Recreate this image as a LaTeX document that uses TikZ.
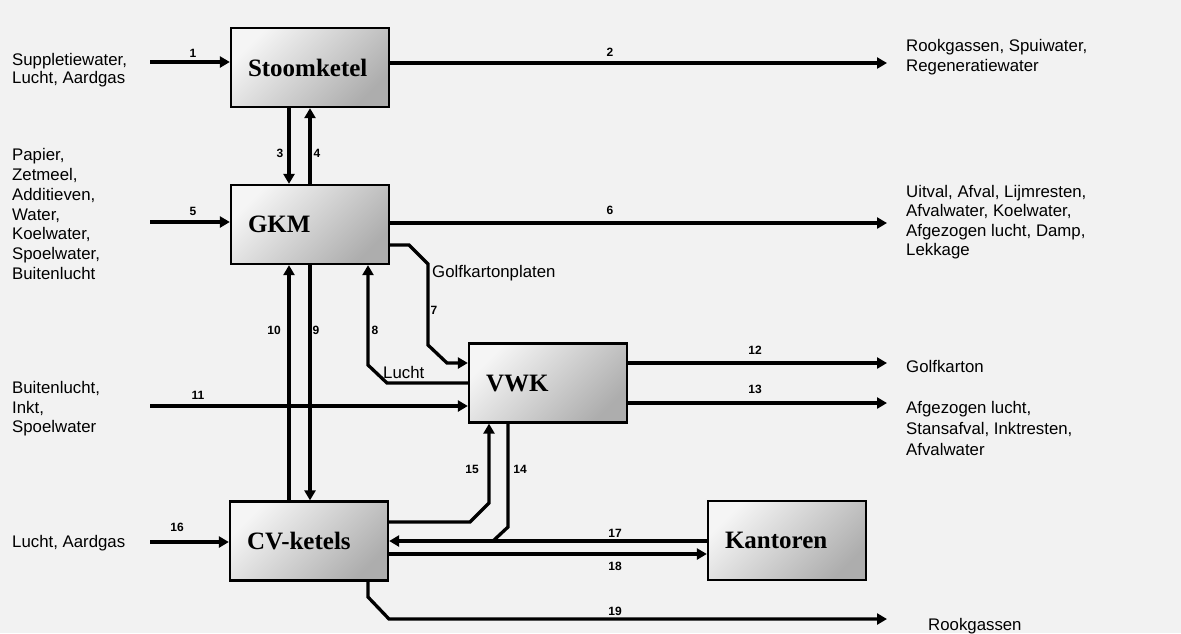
\documentclass[tikz,border=0pt]{standalone}
\usepackage{fontspec}
\setmainfont{Liberation Sans}
\newfontfamily\boxserif{Liberation Serif}
\usetikzlibrary{arrows.meta}
\begin{document}
\begin{tikzpicture}[x=1pt,y=-1pt,
  proc/.style={draw=black, line width=2.3pt, minimum height=79pt, text width=124pt,
    inner xsep=17pt, inner ysep=0pt, align=left,
    font={\boxserif\bfseries\fontsize{25}{28}\selectfont},
    top color=black!4, middle color=black!9, bottom color=black!32, shading angle=45},
  flow/.style={line width=3.3pt, -{Triangle[length=10pt,width=11pt]}},
  plain/.style={line width=3.3pt},
  num/.style={font={\fontsize{12}{13}\selectfont\bfseries}, inner sep=0pt},
  txt/.style={font={\fontsize{16.8}{19.5}\selectfont}, align=left, anchor=west, inner sep=0pt}]
\fill[black!5] (0,0) rectangle (1181,633);
\useasboundingbox (0,0) rectangle (1181,633);

% process boxes
\node[proc] (stoom) at (310,67.5) {Stoomketel};
\node[proc] (gkm) at (310,224.5) {GKM};
\node[proc] (vwk) at (548,383) {VWK};
\node[proc] (cv) at (309,541) {CV-ketels};
\node[proc] (kant) at (787,540.5) {Kantoren};

% input / output texts
\node[txt, font={\fontsize{16.8}{18.5}\selectfont}] (t1) at (12,70) {Suppletiewater,\\Lucht, Aardgas};
\node[txt, font={\fontsize{16.8}{19.7}\selectfont}] (t5) at (12,214) {Papier,\\Zetmeel,\\Additieven,\\Water,\\Koelwater,\\Spoelwater,\\Buitenlucht};
\node[txt] (t11) at (12,409) {Buitenlucht,\\Inkt,\\Spoelwater};
\node[txt] (t16) at (12,543) {Lucht, Aardgas};
\node[txt, font={\fontsize{16.8}{20}\selectfont}] (t2) at (906,57) {Rookgassen, Spuiwater,\\Regeneratiewater};
\node[txt] (t6) at (906,222) {Uitval, Afval, Lijmresten,\\Afvalwater, Koelwater,\\Afgezogen lucht, Damp,\\Lekkage};
\node[txt] (t12) at (906,366) {Golfkarton};
\node[txt, font={\fontsize{16.8}{21}\selectfont}] (t13) at (906,428) {Afgezogen lucht,\\Stansafval, Inktresten,\\Afvalwater};
\node[txt] (t19) at (928,626) {Rookgassen};
\node[txt] (tg) at (432,273) {Golfkartonplaten};
\node[txt] (tl) at (383,372) {Lucht};

% coordinates
\coordinate (s1) at (150,62);
\coordinate (e2) at (887,63);
\coordinate (s5) at (150,222);
\coordinate (e6) at (887,223);
\coordinate (y7) at (0,245);
\coordinate (a7) at (409,245);
\coordinate (b7) at (428,264);
\coordinate (c7) at (428,345);
\coordinate (d7) at (447,363);
\coordinate (y8) at (0,383);
\coordinate (a8) at (387,383);
\coordinate (b8) at (368,365);
\coordinate (s11) at (150,406);
\coordinate (e12) at (887,363);
\coordinate (e13) at (887,403);
\coordinate (x14) at (508,0);
\coordinate (b14) at (508,527);
\coordinate (j14) at (493,541);
\coordinate (y15) at (0,522);
\coordinate (a15) at (470,522);
\coordinate (b15) at (489,503);
\coordinate (s16) at (150,542);
\coordinate (y17) at (0,541);
\coordinate (y18) at (0,554);
\coordinate (x19) at (368,0);
\coordinate (a19) at (368,597);
\coordinate (b19) at (389,619);
\coordinate (e19) at (887,619);

% connectors
\draw[flow] (s1) -- (s1 -| stoom.west);
\draw[flow] (stoom.east |- e2) -- (e2);
\draw[flow] ([xshift=-21pt]stoom.south) -- ([xshift=-21pt]gkm.north);
\draw[flow] (gkm.north) -- (stoom.south);
\draw[flow] (s5) -- (s5 -| gkm.west);
\draw[flow] (gkm.east |- e6) -- (e6);
\draw[flow] (gkm.east |- y7) -- (a7) -- (b7) -- (c7) -- (d7) -- (d7 -| vwk.west);
\draw[flow] (vwk.west |- y8) -- (a8) -- (b8) -- (b8 |- gkm.south);
\draw[flow] (gkm.south) -- (gkm.south |- cv.north);
\draw[flow] ([xshift=-21pt]gkm.south |- cv.north) -- ([xshift=-21pt]gkm.south);
\draw[flow] (s11) -- (s11 -| vwk.west);
\draw[flow] (vwk.east |- e12) -- (e12);
\draw[flow] (vwk.east |- e13) -- (e13);
\draw[plain] (vwk.south -| x14) -- (b14) -- (j14);
\draw[flow] (cv.east |- y15) -- (a15) -- (b15) -- (b15 |- vwk.south);
\draw[flow] (s16) -- (s16 -| cv.west);
\draw[flow] (kant.west |- y17) -- (cv.east |- y17);
\draw[flow] (cv.east |- y18) -- (kant.west |- y18);
\draw[flow] (cv.south -| x19) -- (a19) -- (b19) -- (e19);

% flow numbers
\node[num] (n1) at (193,53) {1};
\node[num] (n2) at (610,52) {2};
\node[num] (n3) at (280,153) {3};
\node[num] (n4) at (317,153) {4};
\node[num] (n5) at (193,211) {5};
\node[num] (n6) at (610,210) {6};
\node[num] (n7) at (434,310) {7};
\node[num] (n8) at (375,330) {8};
\node[num] (n9) at (316,330) {9};
\node[num] (n10) at (274,330) {10};
\node[num] (n11) at (198,395) {11};
\node[num] (n12) at (755,350) {12};
\node[num] (n13) at (755,389) {13};
\node[num] (n14) at (520,469) {14};
\node[num] (n15) at (472,469) {15};
\node[num] (n16) at (177,527) {16};
\node[num] (n17) at (615,533) {17};
\node[num] (n18) at (615,566) {18};
\node[num] (n19) at (615,611) {19};
\end{tikzpicture}
\end{document}
